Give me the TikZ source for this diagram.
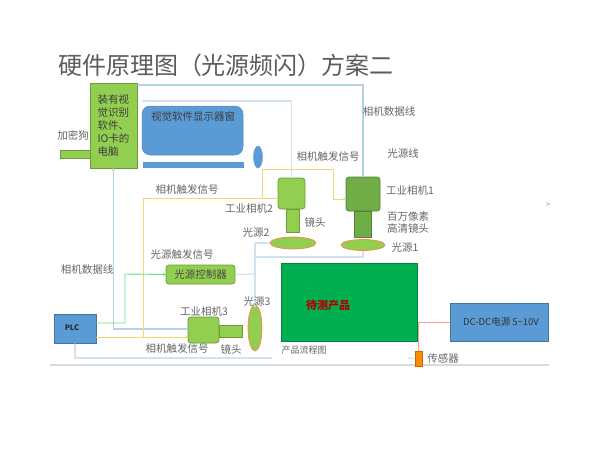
\documentclass[tikz,border=0pt]{standalone}
\usepackage{fontspec}
\setmainfont{Noto Sans CJK SC}
\usetikzlibrary{shapes.geometric,arrows.meta,calc}
\definecolor{cabA}{HTML}{B4D2E6}
\definecolor{cabB}{HTML}{D2E3EF}
\definecolor{yel}{HTML}{F2D675}
\definecolor{grn}{HTML}{92CF50}
\definecolor{dgrn}{HTML}{70AD47}
\definecolor{blu}{HTML}{5B9BD5}
\definecolor{prod}{HTML}{00B050}
\definecolor{lbl}{HTML}{666666}
\tikzset{
 box/.style={draw=#1!75!black,fill=#1,line width=.8pt,inner sep=0pt,outer sep=0pt,anchor=center,font=\fontsize{10.5}{13}\selectfont,text=lbl!70!black},
 cam/.style={box=#1,rounded corners=3pt},
 lamp/.style={ellipse,draw=orange!60!red!70,fill=grn,line width=.7pt,inner sep=0pt,outer sep=0pt},
 lab/.style={inner sep=0pt,outer sep=0pt,text=lbl,font=\fontsize{10.5}{12}\selectfont,align=center},
 cableA/.style={draw=cabA,line width=1.4pt},
 cableB/.style={draw=cabB,line width=1.2pt},
 sig/.style={draw=yel,line width=1pt},
 tipO/.style={-{Stealth[length=3pt,width=3pt]}},
}
\newcommand{\bx}[7][]{\node[#2,minimum width=#5pt,minimum height=#6pt,#1] (#3) at (#4) {#7};}
\begin{document}
\begin{tikzpicture}[x=1pt,y=-1pt]
\useasboundingbox (0,0) rectangle (600,458);
\fill[white] (0,0) rectangle (600,458);
% title
\node[lab,anchor=west,text=lbl!90!black,font=\fontsize{24}{26}\selectfont] (title) at (58,65) {硬件原理图（光源频闪）方案二};
% base line
\coordinate (baseL) at (50,365); \coordinate (baseR) at (549,365);
\draw[draw=black!15,line width=1.6pt] (baseL) -- (baseR);
% nodes
\bx{box=grn}{pc}{113.5,125.5}{47}{85}{}
\node[lab,align=left,text=lbl!60!black,font=\fontsize{10.5}{13}\selectfont] (pctext) at (pc.center) {装有视\\觉识别\\软件、\\IO卡的\\电脑};
\bx{box=grn}{dongle}{75,154}{30}{8}{}
\node[draw=blu!90!black,fill=blu,rounded corners=8pt,minimum width=101pt,minimum height=49pt,inner sep=0pt,outer sep=0pt,line width=.5pt] (mon) at (192.5,130.5) {};
\node[lab,text=lbl!60!black] (montext) at (193,117) {视觉软件显示器窗};
\node[fill=blu,draw=blu,minimum width=100pt,minimum height=5pt,inner sep=0pt,outer sep=0pt] (stand) at (193,164.5) {};
\node[ellipse,fill=blu,draw=blu,minimum width=9pt,minimum height=22pt,inner sep=0pt] (mouse) at (258,157) {};
\bx{cam=grn}{camB}{291.5,193.5}{27}{31}{}
\bx{box=grn}{lensB}{292.5,220.5}{13}{23}{}
\node[lamp,minimum width=46pt,minimum height=12pt] (lightB) at (293,243) {};
\bx{cam=dgrn}{camA}{363,194}{34}{34}{}
\bx{box=dgrn}{lensA}{362.5,224}{17}{26}{}
\node[lamp,minimum width=44pt,minimum height=11pt] (lightA) at (363,245) {};
\bx{box=prod}{product}{349,302}{136}{78}{}
\node[lab,text=red!70!black,font=\fontsize{11}{13}\selectfont\bfseries] (prodtext) at (328,305) {待测产品};
\bx[text=lbl!50!black,font=\fontsize{9.5}{11}\selectfont]{box=blu}{dc}{499,322}{98}{38}{\hspace*{4pt}DC-DC电源 5\textasciitilde10V}
\bx{box=orange!90!yellow}{sensor}{418.5,358.5}{7}{15}{}
\bx{box=blu}{plc}{75,328.5}{42}{29}{}
\node[lab,text=lbl!40!black,font=\fontsize{7.5}{9}\selectfont\bfseries] (plctext) at (72,328) {PLC};
\bx{cam=grn}{ctrl}{200.5,274.5}{69}{19}{光源控制器}
\bx{cam=grn}{camC}{203.5,330}{31}{26}{}
\bx{box=grn}{lensC}{230.5,331}{23}{12}{}
\node[lamp,minimum width=14pt,minimum height=46pt] (lightC) at (255,328) {};
% free ends
\coordinate (pcA) at (137,85);
\coordinate (pcB) at (142,101);
\coordinate (busTop) at (255,243);
\coordinate (busBot) at (255,307);
\coordinate (busCtl) at (255,274);
\coordinate (busA) at (255,257);
\coordinate (plcEnd) at (272,358);
\coordinate (senEnd) at (408,358);
\coordinate (sigL) at (143,198);
\coordinate (sigB) at (143,337);
\coordinate (redJ) at (418.5,322);
% connectors
\draw[cableA,tipO] (camA.north) |- (pcA);
\draw[cableB,tipO] (camB.north) |- (pcB);
\draw[cableA,tipO] ($(camC.west)+(0,-1)$) -| (pc.south);
\draw[cableB,tipO] (plcEnd) -| (plc.south);
\draw[cableB] (senEnd) -- (sensor.west);
\draw[cableB] (busTop) -- (busBot);
\draw[cableB] (busTop) -- (lightB.west);
\draw[cableB] (ctrl.east) -- (busCtl);
\draw[cableB] (busA) -| (lightA.south);
\draw[sig] (sigB) -- (sigL) -- (camB.west |- sigL);
\draw[sig,tipO] ($(plc.east)+(0,8.5)$) -- ($(camC.west)+(0,7)$);
\draw[sig,tipO] (262,198) |- (333,169) |- (camA.west |- 0,199);
\draw[draw=green!50!teal!60,line width=.9pt,tipO] ($(plc.east)+(0,-5.5)$) -| (125,274) -- (ctrl.west);
\draw[draw=red!40,line width=1pt] (dc.west |- redJ) -- (redJ) -- (sensor.north);
% labels
\node[lab] (l1) at (73,135) {加密狗};
\node[lab] (l2) at (187,190) {相机触发信号};
\node[lab] (l3) at (249,209) {工业相机2};
\node[lab] (l4) at (315,222) {镜头};
\node[lab] (l5) at (256,233) {光源2};
\node[lab] (l6) at (389,112) {相机数据线};
\node[lab] (l7) at (403,153) {光源线};
\node[lab] (l8) at (328,157) {相机触发信号};
\node[lab] (l9) at (410,191) {工业相机1};
\node[lab] (l10) at (408,223) {百万像素\\高清镜头};
\node[lab] (l11) at (405,248) {光源1};
\node[lab] (l12) at (182,255) {光源触发信号};
\node[lab] (l13) at (87,270) {相机数据线};
\node[lab] (l14) at (204,312) {工业相机3};
\node[lab] (l15) at (257,302) {光源3};
\node[lab] (l16) at (177,349) {相机触发信号};
\node[lab] (l17) at (231,349) {镜头};
\node[lab,font=\fontsize{9}{10}\selectfont] (l18) at (304,350) {产品流程图};
\node[lab] (l19) at (443,358) {传感器};
\node[lab,text=black!40,font=\fontsize{8}{10}\selectfont] (l20) at (548,205) {>};
\end{tikzpicture}
\end{document}
